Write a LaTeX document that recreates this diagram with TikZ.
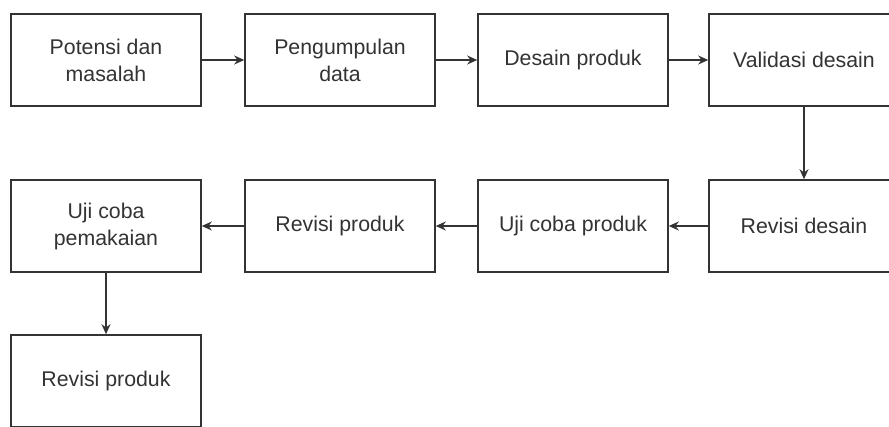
\documentclass[tikz,border=0pt]{standalone}
\usepackage{fontspec}
\setmainfont{Liberation Sans}
\usetikzlibrary{arrows.meta}
\begin{document}
\begin{tikzpicture}[x=1pt, y=-1pt, line width=1.6pt,
    stepbox/.style={draw=black!80, fill=white, minimum width=190pt, minimum height=92pt,
      inner sep=0pt, align=center, text=black!80,
      font=\fontsize{21.3}{27}\selectfont},
    flow/.style={draw=black!80, -{Stealth[length=10pt, width=9pt]}}]
    \useasboundingbox (0,0) rectangle (889,426);

    % Top row
    \node[stepbox] (potensi) at (106,60) {Potensi dan\\masalah};
    \node[stepbox] (data) at (340,60) {Pengumpulan\\data};
    \node[stepbox] (desain) at (573,60) {Desain produk};
    \node[stepbox] (validasi) at (804,60) {Validasi desain};

    % Middle row
    \node[stepbox] (pemakaian) at (106,226) {Uji coba\\pemakaian};
    \node[stepbox] (revproduk) at (340,226) {Revisi produk};
    \node[stepbox] (ujiproduk) at (573,226) {Uji coba produk};
    \node[stepbox] (revdesain) at (804,226) {Revisi desain};

    % Bottom row
    \node[stepbox] (revakhir) at (106,381) {Revisi produk};

    % Connections
    \draw[flow] (potensi) -- (data);
    \draw[flow] (data) -- (desain);
    \draw[flow] (desain) -- (validasi);
    \draw[flow] (validasi) -- (revdesain);
    \draw[flow] (revdesain) -- (ujiproduk);
    \draw[flow] (ujiproduk) -- (revproduk);
    \draw[flow] (revproduk) -- (pemakaian);
    \draw[flow] (pemakaian) -- (revakhir);
\end{tikzpicture}
\end{document}
